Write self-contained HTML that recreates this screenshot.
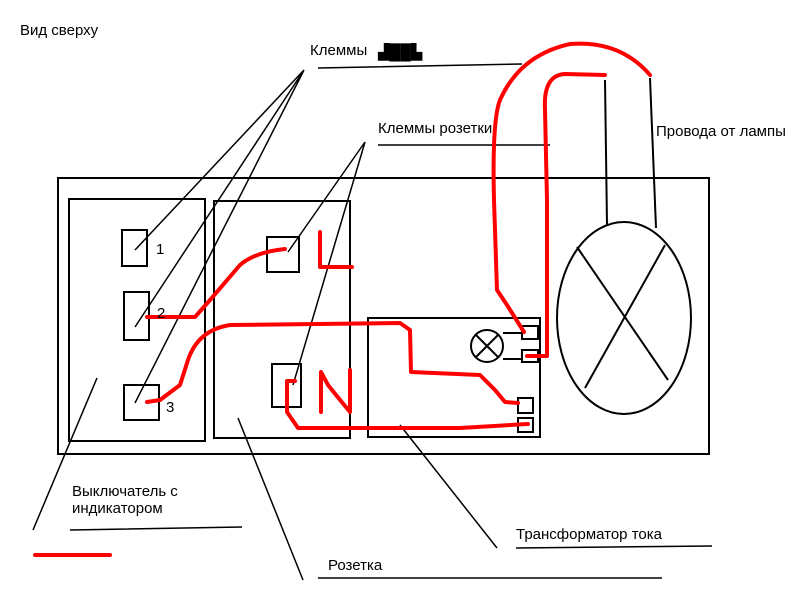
<!DOCTYPE html>
<html><head><meta charset="utf-8"><style>body{margin:0;background:#fff}svg{display:block}text{font-family:"Liberation Sans",sans-serif;font-size:15px;fill:#000}</style></head><body>
<svg width="800" height="600" viewBox="0 0 800 600" xmlns="http://www.w3.org/2000/svg">
<g fill="none" stroke="#000" stroke-width="2">
<rect x="58" y="178" width="651" height="276"/>
<rect x="69" y="199" width="136" height="242"/>
<rect x="214" y="201" width="136" height="237"/>
<rect x="368" y="318" width="172" height="119"/>
<rect x="122" y="230" width="25" height="36"/>
<rect x="124" y="292" width="25" height="48"/>
<rect x="124" y="385" width="35" height="35"/>
<rect x="267" y="237" width="32" height="35"/>
<rect x="272" y="364" width="29" height="43"/>
<rect x="522" y="326" width="16" height="13"/>
<rect x="522" y="350" width="16" height="12"/>
<rect x="518" y="398" width="15" height="15"/>
<rect x="518" y="418" width="15" height="14"/>
<circle cx="487" cy="346" r="16"/>
<path d="M476 335L498 357M498 335L476 357M503 333H522M503 359H522"/>
<ellipse cx="624" cy="318" rx="67" ry="96"/>
<path d="M577 247L668 380M585 388L665 245M605 80L607 225M650 78L656 228"/>
</g>
<g fill="none" stroke="#000" stroke-width="1.5">
<path d="M304 70L135 250M304 70L135 327M304 70L135 403M318 68L522 64M378 145L550 145M365 142L288 252M365 142L293 385M97 378L33 530M238 418L303 580M400 425L497 548M70 530L242 527M318 578L662 578M516 548L712 546"/>
</g>
<g fill="none" stroke="#f00" stroke-width="4" stroke-linejoin="round" stroke-linecap="round">
<path d="M524 332L507 305L497 290L494 200Q492 120 500 100Q520 55 570 44Q620 40 650 75"/>
<path d="M527 356L547 356L547 200L545 110Q543 75 565 74L605 75"/>
<path d="M147 317L195 317L210 300L240 265Q255 252 285 249"/>
<path d="M147 402L160 400L180 385L188 360Q198 330 230 325L400 323L410 330L411 372L480 375L495 390L505 402L518 403"/>
<path d="M295 381L287 381L287 412L298 428L460 428L528 424"/>
<path d="M320 232L320 267L352 267"/>
<path d="M321 412L321 372L328 385L336 395L350 412L350 370"/>
<path d="M35 555L110 555"/>
</g>
<text x="20" y="35">Вид сверху</text>
<text x="310" y="55">Клеммы</text>
<text x="378" y="57" font-size="13">▟██▙</text>
<text x="378" y="133">Клеммы розетки</text>
<text x="656" y="136">Провода от лампы</text>
<text x="156" y="254">1</text>
<text x="157" y="318">2</text>
<text x="166" y="412">3</text>
<text x="72" y="496">Выключатель с</text>
<text x="72" y="513">индикатором</text>
<text x="328" y="570">Розетка</text>
<text x="516" y="539">Трансформатор тока</text>
</svg>
</body></html>
